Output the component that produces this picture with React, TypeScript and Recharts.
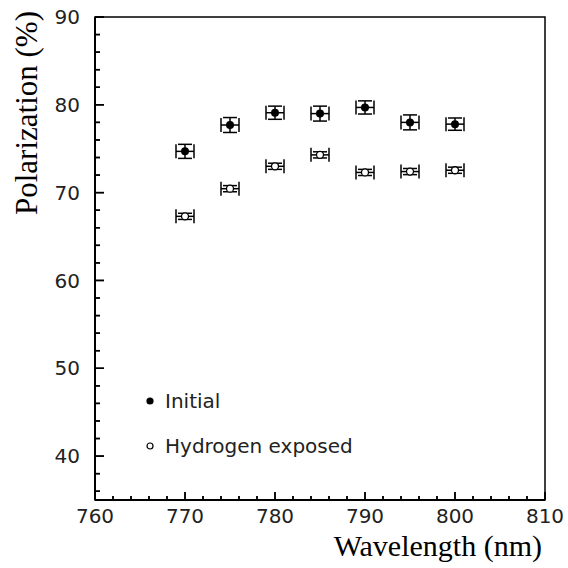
import React from "react";
import { ErrorBar, ReferenceArea, ReferenceLine, Scatter, ScatterChart, XAxis, YAxis } from "recharts";

// wavelength points and their horizontal error (nm)
const wavelengths = [770, 775, 780, 785, 790, 795, 800];
const wavelengthErr = [1, 1, 1, 1, 1, 1, 1];

// polarization (%)
const initialPol = [74.7, 77.7, 79.1, 79.0, 79.7, 78.0, 77.8];
const initialErr = [0.8, 0.85, 0.75, 0.85, 0.75, 0.85, 0.7];
const hydrogenPol = [67.3, 70.45, 73.0, 74.3, 72.3, 72.4, 72.55];
const hydrogenErr = [0.35, 0.35, 0.35, 0.35, 0.35, 0.35, 0.35];

const seriesNames = ["Initial", "Hydrogen exposed"];

const xTicks = [
  760, 762, 764, 766, 768, 770, 772, 774, 776, 778, 780, 782, 784, 786, 788, 790, 792, 794, 796, 798, 800,
  802, 804, 806, 808, 810,
];
const yTicks = [
  36, 38, 40, 42, 44, 46, 48, 50, 52, 54, 56, 58, 60, 62, 64, 66, 68, 70, 72, 74, 76, 78, 80, 82, 84, 86, 88, 90,
];

const toRows = (pol: number[], err: number[]) =>
  wavelengths.map((w, i) => ({ x: w, y: pol[i], ex: wavelengthErr[i], ey: err[i] }));

const initialData = toRows(initialPol, initialErr);
const hydrogenData = toRows(hydrogenPol, hydrogenErr);

const sans = "'DejaVu Sans', sans-serif";
const serif = "'Liberation Serif', 'Times New Roman', serif";
const textColor = "#222";

function XTick(props: any) {
  const { x, y, payload } = props;
  const major = payload.value % 10 === 0;
  return (
    <g>
      <line x1={x} y1={y} x2={x} y2={y - (major ? 8 : 4)} stroke="#000" strokeWidth={1.5} />
      {major && (
        <text x={x} y={y + 23} textAnchor="middle" fontFamily={sans} fontSize={20} fill={textColor}>
          {payload.value}
        </text>
      )}
    </g>
  );
}

function YTick(props: any) {
  const { x, y, payload } = props;
  const major = payload.value % 10 === 0;
  return (
    <g>
      <line x1={x} y1={y} x2={x + (major ? 9 : 5)} y2={y} stroke="#000" strokeWidth={1.5} />
      {major && (
        <text x={x - 15} y={y} dy="0.36em" textAnchor="end" fontFamily={sans} fontSize={20} fill={textColor}>
          {payload.value}
        </text>
      )}
    </g>
  );
}

const filledDot = (p: any) => <circle cx={p.cx} cy={p.cy} r={4} fill="#000" />;
const openDot = (p: any) => <circle cx={p.cx} cy={p.cy} r={3.5} fill="#fff" stroke="#000" strokeWidth={1.3} />;

const overlay = { position: "absolute" as const, whiteSpace: "nowrap" as const };

export default function App() {
  return (
    <div style={{ position: "absolute", left: 0, top: 0, width: 568, height: 568, background: "#fff" }}>
      <ScatterChart width={568} height={568} margin={{ top: 17, right: 23, bottom: 38, left: 35 }}>
        <XAxis
          type="number"
          dataKey="x"
          domain={[760, 810]}
          ticks={xTicks}
          interval={0}
          height={30}
          tickSize={0}
          tickMargin={0}
          tickLine={false}
          tick={<XTick />}
          axisLine={{ stroke: "#000", strokeWidth: 2 }}
        />
        <YAxis
          type="number"
          dataKey="y"
          domain={[35, 90]}
          ticks={yTicks}
          interval={0}
          width={60}
          tickSize={0}
          tickMargin={0}
          tickLine={false}
          tick={<YTick />}
          axisLine={{ stroke: "#000", strokeWidth: 2 }}
        />
        <ReferenceArea x1={760} x2={810} y1={35} y2={90} fill="#fff" fillOpacity={0} stroke="#000" strokeWidth={1.5} />
        {/* inward tick marks, drawn in the plot layer as well */}
        {xTicks.map((t) => (
          <ReferenceLine
            key={"xt" + t}
            segment={[
              { x: t, y: 35 },
              { x: t, y: 35 + (t % 10 === 0 ? 0.9 : 0.45) },
            ]}
            stroke="#000"
            strokeWidth={1.5}
            ifOverflow="visible"
          />
        ))}
        {yTicks.map((t) => (
          <ReferenceLine
            key={"yt" + t}
            segment={[
              { x: 760, y: t },
              { x: 760 + (t % 10 === 0 ? 1.0 : 0.55), y: t },
            ]}
            stroke="#000"
            strokeWidth={1.5}
            ifOverflow="visible"
          />
        ))}
        <Scatter name={seriesNames[0]} data={initialData} isAnimationActive={false} shape={filledDot}>
          <ErrorBar dataKey="ey" direction="y" width={7} stroke="#000" />
          <ErrorBar dataKey="ex" direction="x" width={7} stroke="#000" />
        </Scatter>
        <Scatter name={seriesNames[1]} data={hydrogenData} isAnimationActive={false} shape={openDot}>
          <ErrorBar dataKey="ey" direction="y" width={7} stroke="#000" />
          <ErrorBar dataKey="ex" direction="x" width={7} stroke="#000" />
        </Scatter>
      </ScatterChart>

      {/* legend */}
      <div style={{ ...overlay, left: 145, top: 388, fontFamily: sans, fontSize: 20, color: textColor }}>
        {seriesNames.map((name, i) => (
          <div key={name} style={{ display: "flex", alignItems: "center", height: 26, marginBottom: 19 }}>
            <svg width={10} height={10} style={{ marginRight: 10 }}>
              {i === 0 ? (
                <circle cx={5} cy={5} r={3.6} fill="#000" />
              ) : (
                <circle cx={5} cy={5} r={3} fill="#fff" stroke="#000" strokeWidth={1.2} />
              )}
            </svg>
            <span>{name}</span>
          </div>
        ))}
      </div>

      {/* axis titles */}
      <div style={{ ...overlay, right: 26, top: 529, fontFamily: serif, fontSize: 30, lineHeight: "34px" }}>
        Wavelength (nm)
      </div>
      <div
        style={{
          ...overlay,
          left: 10,
          top: 11,
          fontFamily: serif,
          fontSize: 31,
          lineHeight: "34px",
          writingMode: "vertical-rl",
          transform: "rotate(180deg)",
        }}
      >
        Polarization (%)
      </div>
    </div>
  );
}
